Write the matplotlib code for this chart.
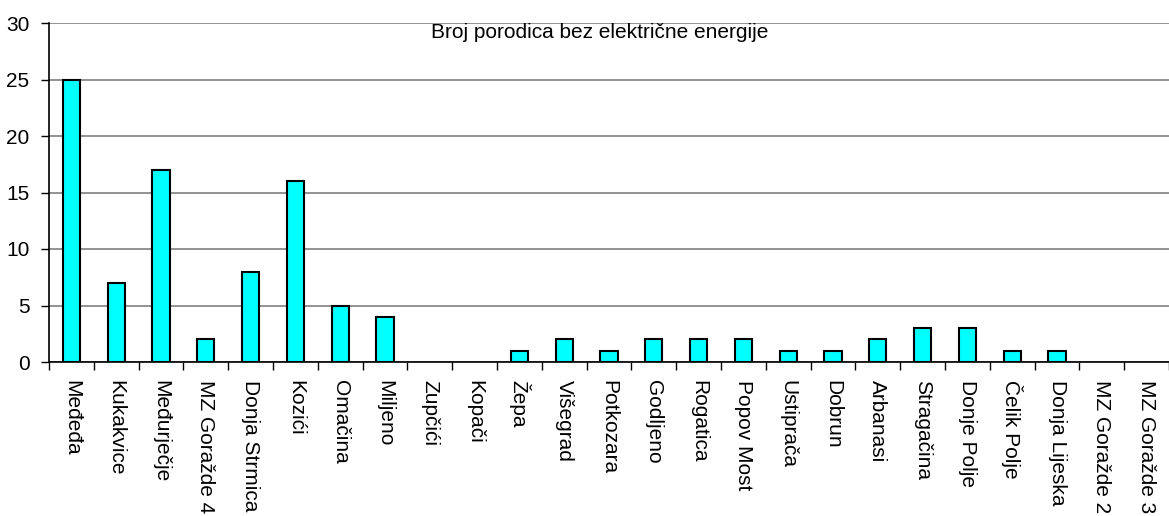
import matplotlib.pyplot as plt
import numpy as np

categories = [
    "Međeđa", "Kukakvice", "Međurječje", "MZ Goražde 4", "Donja Strmica",
    "Kozići", "Omačina", "Miljeno", "Zupčići", "Kopači", "Žepa", "Višegrad",
    "Potkozara", "Godljeno", "Rogatica", "Popov Most", "Ustiprača", "Dobrun",
    "Arbanasi", "Stragačina", "Donje Polje", "Čelik Polje", "Donja Lijeska",
    "MZ Goražde 2", "MZ Goražde 3",
]
values = [25, 7, 17, 2, 8, 16, 5, 4, 0, 0, 1, 2, 1, 2, 2, 2, 1, 1, 2, 3, 3, 1, 1, 0, 0]
y_ticks = [0, 5, 10, 15, 20, 25, 30]
title = "Broj porodica bez električne energije"

plt.rcParams["font.family"] = ["Liberation Sans", "DejaVu Sans"]

fig = plt.figure(figsize=(11.69, 5.16), dpi=100)
ax = fig.add_axes([49 / 1169, 1 - 362 / 516, 1 - 49 / 1169, (362 - 23) / 516])

x = np.arange(len(categories))
edges = ["black" if v > 0 else "none" for v in values]
ax.bar(x, values, width=0.38, color="#00FFFF", edgecolor=edges, linewidth=1.5, zorder=3)

ax.set_xlim(-0.5, len(categories) - 0.5)
ax.set_ylim(0, 30)
ax.set_yticks(y_ticks)
ax.set_yticklabels([str(t) for t in y_ticks], fontsize=15)
ax.yaxis.grid(True, color="#808080", linewidth=1.2, zorder=0)

ax.set_xticks(x)
ax.set_xticklabels(categories, rotation=270, fontsize=15, va="top", ha="center")
ax.set_xticks(np.arange(len(categories) + 1) - 0.5, minor=True)
ax.tick_params(axis="x", which="major", length=0, pad=13)
ax.tick_params(axis="x", which="minor", length=6, width=1, direction="out")
ax.tick_params(axis="y", length=6, width=1, direction="out", pad=8)

for side in ("top", "right"):
    ax.spines[side].set_visible(False)
ax.spines["left"].set_linewidth(1.2)
ax.spines["bottom"].set_linewidth(1.2)
ax.spines["left"].set_zorder(4)
ax.spines["bottom"].set_zorder(4)

ax.text(0.492, (362 - 32) / 339, title, transform=ax.transAxes,
        ha="center", va="center", fontsize=15)

fig.savefig("out.png", dpi=100)
